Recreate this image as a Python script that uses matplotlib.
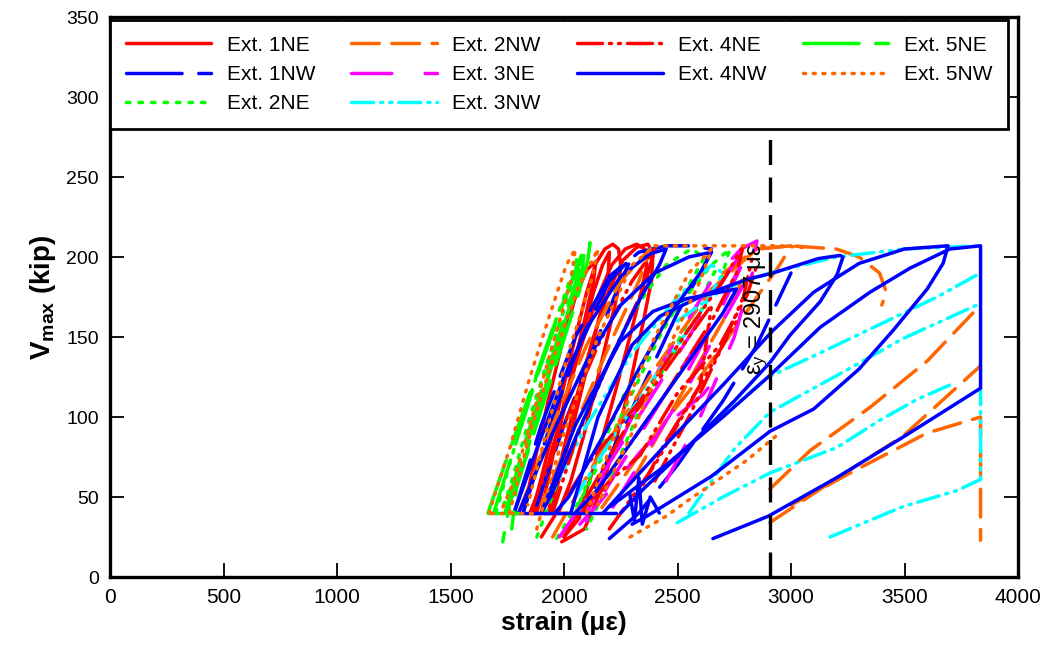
import matplotlib
matplotlib.use("Agg")
import matplotlib.pyplot as plt
from matplotlib import font_manager as fm

# ---------------- data (strain in micro-strain, Vmax in kip) ----------------
labels = ["Ext. 1NE", "Ext. 1NW", "Ext. 2NE", "Ext. 2NW", "Ext. 3NE",
          "Ext. 3NW", "Ext. 4NE", "Ext. 4NW", "Ext. 5NE", "Ext. 5NW"]

ext_1NE = [
    [(1860,40),(1900,62),(1950,90),(2000,120),(2050,150),(2100,178),(2140,196),(2180,205),(2215,208),(2240,205),(2250,195),(2240,180),(2200,155),(2150,125),(2090,90),(2030,60),(1975,40)],
    [(1880,40),(1940,75),(2000,108),(2070,142),(2140,172),(2210,195),(2270,205),(2320,208),(2355,205),(2365,195),(2340,178),(2290,150),(2230,118),(2160,82),(2090,50),(2040,35),(2000,25)],
    [(1930,40),(1990,75),(2060,115),(2130,150),(2200,180),(2260,198),(2320,206),(2370,208),(2392,202),(2385,185),(2350,160),(2290,120),(2220,80),(2150,50),(2090,30),(1990,22)],
    [(1820,40),(1870,72),(1930,110),(1990,145),(2050,175),(2100,192),(2140,197),(2130,185),(2090,160),(2030,125),(1970,90),(1910,60),(1870,40)],
    [(1900,40),(1950,75),(2010,110),(2070,145),(2130,178),(2170,195),(2200,203),(2195,190),(2160,165),(2100,130),(2040,95),(1980,62),(1940,40)],
    [(1860,40),(2050,40)],
]
ext_1NW = [
    [(1780,40),(1900,95),(2050,150),(2200,188),(2330,203),(2450,207),(2550,207),(2650,205),(2620,195),(2500,165),(2350,120),(2200,75),(2080,40)],
    [(1820,40),(1950,100),(2080,150),(2200,185),(2300,200),(2250,185),(2150,150),(2000,95),(1880,45)],
    [(2200,24),(2330,40),(2500,70),(2700,110),(2850,145),(2950,175),(3000,190)],
]
ext_2NE = [
    [(1700,40),(1800,90),(1900,135),(2000,175),(2060,200),(2040,185),(1950,145),(1850,100),(1760,55),(1720,40)],
    [(1880,25),(2000,70),(2150,120),(2300,165),(2450,195),(2560,205),(2620,200),(2560,185),(2420,150),(2250,100),(2100,55),(1950,20)],
    [(2050,40),(2250,110),(2450,160),(2650,195),(2730,205),(2690,185),(2550,155),(2350,110),(2200,60),(2100,30)],
    [(2400,120),(2550,160),(2680,195)],
]
ext_2NW = [
    [(1800,40),(1950,95),(2100,145),(2250,185),(2380,205),(2330,185),(2200,145),(2050,95),(1900,45)],
    [(1950,25),(2150,75),(2400,130),(2650,180),(2850,205),(3000,207),(2950,195),(2800,165),(2600,125),(2350,80),(2150,40)],
    [(2300,60),(2500,110),(2700,160),(2800,190)],
    [(2907,55),(3084,79),(3348,106),(3600,135),(3835,170)],
    [(2907,34),(3172,59),(3493,88),(3835,132)],
    [(3000,45),(3300,68),(3600,90),(3835,100),(3835,23)],
    [(2700,190),(2850,205),(3000,207),(3200,205),(3300,200),(3390,190),(3420,178),(3400,170)],
]
ext_3NE = [
    [(1980,25),(2150,60),(2350,105),(2550,150),(2700,185),(2800,207),(2780,195),(2650,160),(2450,115),(2250,70),(2100,35)],
    [(2070,33),(2159,47),(2335,78),(2467,97),(2612,114),(2700,130)],
    [(2100,40),(2300,100),(2500,150),(2650,185),(2780,205),(2850,210),(2820,190),(2700,160),(2550,120),(2350,75),(2200,40)],
    [(2450,60),(2600,100),(2750,150),(2830,190)],
    [(2550,130),(2700,170),(2800,200)],
]
ext_3NW = [
    [(3172,25),(3493,44),(3731,54),(3835,61),(3835,118)],
    [(2500,34),(2700,50),(2907,65),(3203,81),(3392,98),(3555,111),(3700,120)],
    [(2550,40),(2750,80),(2907,103),(3203,126),(3493,149),(3835,171)],
    [(2650,95),(2900,125),(3128,140),(3423,160),(3643,175),(3835,190)],
    [(2500,160),(2700,180),(2907,190),(3200,200),(3500,205),(3835,207)],
    [(1900,40),(2100,95),(2300,140),(2500,175),(2650,195),(2700,190),(2600,165),(2450,135),(2250,95),(2050,50)],
]
ext_4NE = [
    [(1900,25),(2100,70),(2335,110),(2550,155),(2700,185),(2790,207),(2760,190),(2650,160),(2450,115),(2250,75),(2050,35)],
    [(2000,25),(2200,60),(2335,76),(2500,115),(2687,145),(2806,176),(2850,195)],
    [(1850,40),(2000,95),(2150,145),(2300,185),(2400,205),(2350,180),(2200,135),(2050,85),(1950,40)],
    [(2100,50),(2300,100),(2500,140),(2650,170),(2600,120),(2450,85),(2300,45)],
    [(2400,60),(2550,100),(2700,145),(2790,175),(2830,200)],
    [(2200,30),(2400,70),(2600,120),(2760,160)],
]
ext_4NW = [
    [(1780,40),(1880,80),(2000,125),(2120,160),(2250,188),(2380,202),(2450,205),(2420,195),(2320,170),(2200,135),(2060,90),(1940,50),(1900,40)],
    [(1800,40),(1950,90),(2100,135),(2250,170),(2400,190),(2550,200),(2650,203),(2600,190),(2470,165),(2330,130),(2180,90),(2020,50),(1960,40)],
    [(2030,40),(2150,100),(2300,145),(2423,163),(2612,176),(2806,186),(2920,190),(3009,194),(3120,199),(3216,201),(3229,200),(3203,189),(3128,172),(2995,151),(2907,134),(2750,110),(2550,82),(2350,55),(2250,40)],
    [(2172,40),(2450,83),(2700,120),(2920,154),(3100,178),(3300,196),(3500,205),(3692,207),(3670,196),(3600,180),(3449,154),(3300,130),(3100,105),(2907,91),(2650,63),(2365,38),(2300,33)],
    [(2656,24),(2900,38),(3200,62),(3500,88),(3835,118),(3835,207),(3700,205),(3524,193),(3348,178),(3128,156),(2907,126),(2700,100),(2450,70),(2203,44)],
    [(1900,40),(2050,95),(2247,147),(2392,166),(2542,174),(2687,178),(2760,180),(2700,165),(2550,135),(2350,95),(2150,55),(2050,40)],
    [(2290,52),(2310,35),(2330,62),(2345,33),(2380,50),(2420,40)],
    [(1780,40),(2230,40)],
]
ext_5NE = [
    [(1665,40),(1750,75),(1850,115),(1950,155),(2050,190),(2100,205),(2115,209),(2105,198),(2060,175),(1980,140),(1890,100),(1800,60),(1740,40)],
    [(1690,40),(1780,80),(1880,125),(1980,165),(2060,195),(2090,206),(2080,190),(2010,160),(1920,120),(1830,80),(1760,45),(1730,22)],
    [(1740,40),(1830,85),(1930,130),(2020,170),(2070,192),(2050,180),(1960,140),(1870,95),(1790,55),(1770,30)],
    [(1665,40),(1800,40)],
]
ext_5NW = [
    [(1670,40),(1760,80),(1850,125),(1940,165),(2010,195),(2050,205),(2030,185),(1960,150),(1870,105),(1780,60),(1720,40)],
    [(1760,40),(1860,95),(1960,140),(2060,180),(2150,205),(2120,185),(2030,145),(1930,95),(1840,45)],
    [(1880,30),(2000,90),(2150,150),(2300,195),(2400,207),(2600,207),(2800,207),(2950,207),(3050,206)],
    [(2291,25),(2450,38),(2568,50),(2806,73),(2950,90)],
    [(2100,40),(2250,100),(2400,150),(2550,190),(2650,205),(2600,185),(2450,140),(2300,90),(2150,45)],
    [(1680,40),(1880,40)],
]

series = [ext_1NE, ext_1NW, ext_2NE, ext_2NW, ext_3NE,
          ext_3NW, ext_4NE, ext_4NW, ext_5NE, ext_5NW]
colors = ["#FF0000", "#0000FF", "#00FF00", "#FF6600", "#FF00FF",
          "#00FFFF", "#FF0000", "#0000FF", "#00FF00", "#FF6600"]
dashes = [None, (40, 12), (2.5, 6.5), (20, 9), (29, 24),
          (16, 5, 1.5, 5, 1.5, 5), (18, 5, 1.5, 5, 1.5, 5), None, (40, 12), (1.5, 5.5)]

yield_strain = 2907
xticks = [0, 500, 1000, 1500, 2000, 2500, 3000, 3500, 4000]
yticks = [0, 50, 100, 150, 200, 250, 300, 350]

# ---------------- fonts ----------------
avail = {f.name for f in fm.fontManager.ttflist}
narrow = "Liberation Sans Narrow" if "Liberation Sans Narrow" in avail else "Liberation Sans"
plt.rcParams["font.family"] = ["Liberation Sans", "DejaVu Sans"]
plt.rcParams["mathtext.fontset"] = "custom"
plt.rcParams["mathtext.rm"] = "Liberation Sans"
plt.rcParams["mathtext.it"] = "Liberation Sans"
plt.rcParams["mathtext.bf"] = "Liberation Sans:bold"
plt.rcParams["lines.scale_dashes"] = False

fig = plt.figure(figsize=(10.52, 6.60), dpi=100)
ax = fig.add_axes([110/1052, 83/660, 908/1052, 560/660])

lw = 2.5
for segs, col, ds, lab in zip(series, colors, dashes, labels):
    first = True
    for seg in segs:
        xs = [p[0] for p in seg]
        ys = [p[1] for p in seg]
        ln, = ax.plot(xs, ys, color=col, lw=lw, label=lab if first else None,
                      solid_capstyle="round", dash_capstyle="round",
                      solid_joinstyle="round", dash_joinstyle="round")
        if ds is not None:
            ln.set_dashes(ds)
        first = False

vl = ax.axvline(yield_strain, color="black", lw=2.4, zorder=20)
vl.set_dashes((18, 9))
ax.text(2848, 167, r"ε$_y$ = 2907 με", rotation=90, ha="center", va="center",
        fontsize=17, zorder=21)

ax.set_xlim(0, 4000)
ax.set_ylim(0, 350)
ax.set_xticks(xticks)
ax.set_yticks(yticks)
ax.tick_params(direction="in", length=10, width=1.3, top=True, right=True,
               labelsize=14, pad=8)
for t in ax.get_xticklabels():
    t.set_fontfamily(narrow)
    t.set_fontsize(15)
for sp in ax.spines.values():
    sp.set_linewidth(2.4)

ax.set_xlabel("strain (με)", fontsize=19, fontweight="bold", family=narrow, labelpad=3)
ax.set_ylabel(r"$\mathbf{V_{max}}$ (kip)", fontsize=20, fontweight="bold", labelpad=6)

leg = ax.legend(loc="upper left", bbox_to_anchor=(0.0, 0.9946, 0.989, 0.0),
                mode="expand", ncol=4, frameon=True, fancybox=False,
                edgecolor="black", framealpha=1, handlelength=4.1,
                handletextpad=0.75, columnspacing=0.8, borderpad=0.75,
                labelspacing=0.5, prop={"family": narrow, "size": 15},
                borderaxespad=0)
leg.get_frame().set_linewidth(2.0)
leg.set_zorder(30)

fig.savefig("out.png", dpi=100)
